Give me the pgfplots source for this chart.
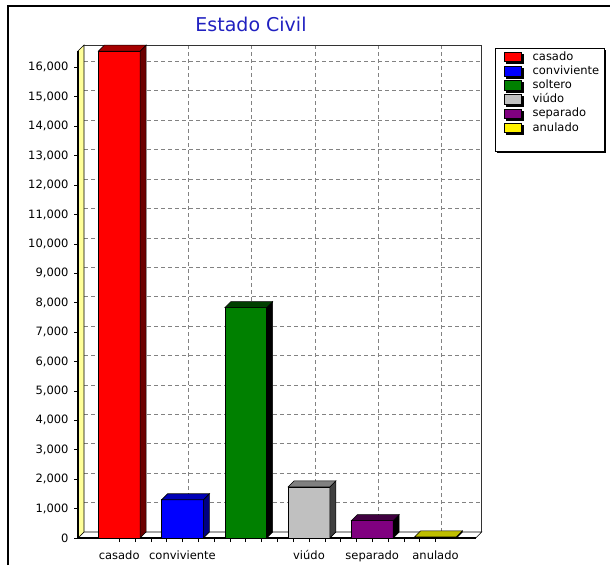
\documentclass[border=0pt]{standalone}
\usepackage{pgfplots}
\pgfplotsset{compat=1.18}
\usepackage{fontspec}
\setmainfont{DejaVu Sans}
\usetikzlibrary{shadows}
\definecolor{wallyellow}{RGB}{255,255,153}
\definecolor{titleblue}{RGB}{32,32,192}
\definecolor{gridgray}{RGB}{130,130,130}
\begin{document}
\begin{tikzpicture}[x=1pt,y=1pt]
\useasboundingbox (0,0) rectangle (610,565);
\draw[line width=1.2pt] (8,0) -- (8,559) -- (610,559);
\node[anchor=base, text=titleblue, font=\fontsize{19}{22}\selectfont, inner sep=0pt] at (251,533) {Estado Civil};
\begin{axis}[
  at={(78pt,27pt)}, anchor=south west,
  scale only axis, width=403.7pt, height=493pt,
  xmin=-0.651, xmax=5.73, ymin=0, ymax=16760,
  clip=false,
  axis line style={draw=none},
  xtick={0,1,2,3,4,5},
  xticklabels={casado,conviviente,,viúdo,separado,anulado},
  minor x tick num=3,
  ytick={0,1000,...,16000},
  scaled y ticks=false,
  yticklabel={\pgfmathprintnumber[fixed,precision=0,1000 sep={,},assume math mode=true]{\tick}},
  xtick pos=bottom, ytick pos=left,
  tick align=outside,
  major tick length=4pt, minor tick length=4pt,
  tick style={black, line width=0.6pt},
  tick label style={font=\fontsize{11.5}{13}\selectfont},
  yticklabel style={xshift=-2pt},
  xticklabel style={text height=9pt, text depth=2.5pt, yshift=-5pt},
  legend style={at={(1.033,0.9945)}, anchor=north west, draw=black, fill=white,
    line width=0.6pt,
    drop shadow={shadow xshift=2pt, shadow yshift=-2pt, fill=black, opacity=1},
    font=\fontsize{11.5}{13}\selectfont, inner xsep=3pt, inner ysep=2pt, row sep=0pt,
    nodes={inner ysep=1.6pt, inner xsep=2pt, text height=8.5pt, text depth=2.5pt},
    /tikz/every odd column/.append style={column sep=9pt}},
  legend cell align=left,
  legend image code/.code={\path[#1, draw=black, line width=0.6pt] (6pt,-4.5pt) rectangle (23pt,5pt);},
]
% back wall grid
\pgfplotsinvokeforeach{1204,2204,3204,4204,5204,6204,7204,8204,9204,10204,11204,12204,13204,14204,15204,16204}{
  \draw[gridgray, dash pattern=on 4pt off 3pt, line width=0.6pt] (axis cs:-0.556,#1) -- (axis cs:5.73,#1);
}
\pgfplotsinvokeforeach{0.095,1.095,2.095,3.095,4.095,5.095}{
  \draw[gridgray, dash pattern=on 4pt off 3pt, line width=0.6pt] (axis cs:#1,204) -- (axis cs:#1,16760);
}
% back wall border
\draw[black!80, line width=0.8pt] (axis cs:-0.556,16760) -- (axis cs:5.73,16760) -- (axis cs:5.73,204);
% floor
\draw[black, line width=0.6pt, fill=white] (axis cs:-0.651,0) -- (axis cs:5.635,0) -- (axis cs:5.73,204) -- (axis cs:-0.556,204) -- cycle;
\draw[black, line width=1.4pt] (axis cs:-0.651,0) -- (axis cs:5.635,0);
% left wall
\draw[black, line width=0.6pt, fill=wallyellow] (axis cs:-0.651,0) -- (axis cs:-0.556,204) -- (axis cs:-0.556,16760) -- (axis cs:-0.651,16556) -- cycle;
\draw[black, line width=1.6pt] (axis cs:-0.651,0) -- (axis cs:-0.651,16556);

% casado
\addplot[ybar, bar width=0.66, bar shift=0pt, fill=red, draw=black, line width=0.6pt] coordinates {(0,16550)};
\addlegendentry{casado}
\addplot[fill=red!42!black, draw=black, line width=0.6pt, forget plot] coordinates {(0.33,0) (0.425,204) (0.425,16754) (0.33,16550)} -- cycle;
\addplot[fill=red!65!black, draw=black, line width=0.6pt, forget plot] coordinates {(-0.33,16550) (-0.235,16754) (0.425,16754) (0.33,16550)} -- cycle;
% conviviente
\addplot[ybar, bar width=0.66, bar shift=0pt, fill=blue, draw=black, line width=0.6pt] coordinates {(1,1300)};
\addlegendentry{conviviente}
\addplot[fill=blue!50!black, draw=black, line width=0.6pt, forget plot] coordinates {(1.33,0) (1.425,204) (1.425,1504) (1.33,1300)} -- cycle;
\addplot[fill=blue!72!black, draw=black, line width=0.6pt, forget plot] coordinates {(0.67,1300) (0.765,1504) (1.425,1504) (1.33,1300)} -- cycle;
% soltero
\addplot[ybar, bar width=0.66, bar shift=0pt, fill={rgb,255:red,0;green,128;blue,0}, draw=black, line width=0.6pt] coordinates {(2,7830)};
\addlegendentry{soltero}
\addplot[fill=black, draw=black, line width=0.6pt, forget plot] coordinates {(2.33,0) (2.425,204) (2.425,8034) (2.33,7830)} -- cycle;
\addplot[fill={rgb,255:red,0;green,64;blue,0}, draw=black, line width=0.6pt, forget plot] coordinates {(1.67,7830) (1.765,8034) (2.425,8034) (2.33,7830)} -- cycle;
% viudo
\addplot[ybar, bar width=0.66, bar shift=0pt, fill={rgb,255:red,192;green,192;blue,192}, draw=black, line width=0.6pt] coordinates {(3,1740)};
\addlegendentry{viúdo}
\addplot[fill={rgb,255:red,64;green,64;blue,64}, draw=black, line width=0.6pt, forget plot] coordinates {(3.33,0) (3.425,204) (3.425,1944) (3.33,1740)} -- cycle;
\addplot[fill={rgb,255:red,128;green,128;blue,128}, draw=black, line width=0.6pt, forget plot] coordinates {(2.67,1740) (2.765,1944) (3.425,1944) (3.33,1740)} -- cycle;
% separado
\addplot[ybar, bar width=0.66, bar shift=0pt, fill={rgb,255:red,128;green,0;blue,128}, draw=black, line width=0.6pt] coordinates {(4,590)};
\addlegendentry{separado}
\addplot[fill=black, draw=black, line width=0.6pt, forget plot] coordinates {(4.33,0) (4.425,204) (4.425,794) (4.33,590)} -- cycle;
\addplot[fill={rgb,255:red,64;green,0;blue,64}, draw=black, line width=0.6pt, forget plot] coordinates {(3.67,590) (3.765,794) (4.425,794) (4.33,590)} -- cycle;
% anulado
\addplot[ybar, bar width=0.66, bar shift=0pt, fill=yellow, draw=black, line width=0.6pt] coordinates {(5,40)};
\addlegendentry{anulado}
\addplot[fill=yellow!40!black, draw=black, line width=0.6pt, forget plot] coordinates {(5.33,0) (5.425,204) (5.425,244) (5.33,40)} -- cycle;
\addplot[fill={rgb,255:red,190;green,190;blue,0}, draw=black, line width=0.6pt, forget plot] coordinates {(4.67,40) (4.765,244) (5.425,244) (5.33,40)} -- cycle;
\addlegendimage{empty legend}
\addlegendentry{}
\end{axis}
\end{tikzpicture}
\end{document}
